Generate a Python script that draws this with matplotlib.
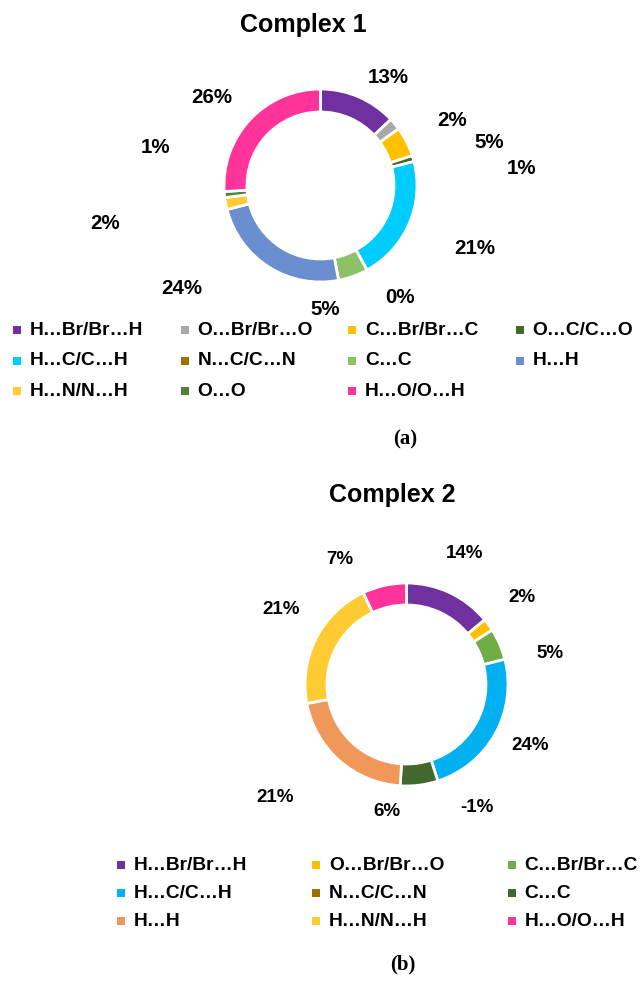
import numpy as np
import matplotlib
matplotlib.use('Agg')
import matplotlib.pyplot as plt

W, H = 641, 982

# contact contributions (%) for each complex
cats1 = ['H…Br/Br…H', 'O…Br/Br…O', 'C…Br/Br…C', 'O…C/C…O', 'H…C/C…H', 'N…C/C…N',
         'C…C', 'H…H', 'H…N/N…H', 'O…O', 'H…O/O…H']
vals1 = [13, 2, 5, 1, 21, 0, 5, 24, 2, 1, 26]
cols1 = ['#7030A0', '#A9A9A9', '#FFC000', '#43682B', '#00CCFF', '#9A7200',
         '#8CC168', '#6A8ECF', '#FFCA33', '#548235', '#FF3399']

cats2 = ['H…Br/Br…H', 'O…Br/Br…O', 'C…Br/Br…C', 'H…C/C…H', 'N…C/C…N',
         'C…C', 'H…H', 'H…N/N…H', 'H…O/O…H']
vals2 = [14, 2, 5, 24, -1, 6, 21, 21, 7]
cols2 = ['#7030A0', '#FFC000', '#70AD47', '#00B0F0', '#9A7200',
         '#43682B', '#F0985A', '#FFCB33', '#FF3399']

# data label positions (px, from top-left)
lab1 = [(388, 77), (452, 120), (489, 142), (522, 168), (475, 248), (400, 297),
        (325, 309), (182, 288), (105, 223), (156, 147), (212, 97)]
lab2 = [(465, 553), (522, 597), (550, 653), (530, 745), (477, 807),
        (387, 812), (275, 797), (281, 610), (340, 560)]

fig = plt.figure(figsize=(W / 100, H / 100), dpi=100)
ax = fig.add_axes([0, 0, 1, 1])

sans = 'Liberation Sans'


def donut(cx, cy, R, ring, vals, cols, labpos, lsize, title, ty, tx):
    v = np.clip(np.array(vals, dtype=float), 0, None)
    ax.pie(v, colors=cols, startangle=90, counterclock=False,
           center=(cx, H - cy), radius=R,
           wedgeprops=dict(width=ring, edgecolor='white', linewidth=2))
    for val, (x, y) in zip(vals, labpos):
        ax.text(x, H - y, f'{val}%', ha='center', va='center',
                fontsize=lsize, fontweight='bold', family=sans)
    ax.text(tx, H - ty, title, ha='center', va='center',
            fontsize=18, fontweight='bold', family=sans)


def legend(cats, cols, ncol, x0, dx, y0, dy):
    for i, (c, col) in enumerate(zip(cats, cols)):
        r, k = divmod(i, ncol)
        x = x0 + k * dx
        y = H - (y0 + r * dy)
        ax.scatter([x], [y], s=40, marker='s', color=col, linewidths=0)
        ax.text(x + 13, y, c, ha='left', va='center',
                fontsize=13.8, fontweight='bold', family=sans)


donut(320.5, 185.5, 96.5, 23, vals1, cols1, lab1, 14.8, 'Complex 1', 25, 303)
legend(cats1, cols1, 4, 17, 167.5, 330, 30.5)
ax.text(405, H - 439, '(a)', ha='center', va='center', fontsize=15,
        fontweight='bold', family='Liberation Serif')

donut(406.5, 684.5, 101.5, 22, vals2, cols2, lab2, 13.5, 'Complex 2', 495, 392)
legend(cats2, cols2, 3, 120.5, 195.5, 865, 28)
ax.text(403, H - 964, '(b)', ha='center', va='center', fontsize=15,
        fontweight='bold', family='Liberation Serif')

ax.set_xlim(0, W)
ax.set_ylim(0, H)
ax.set_aspect('equal')
ax.axis('off')

fig.savefig('out.png', dpi=100, facecolor='white')
